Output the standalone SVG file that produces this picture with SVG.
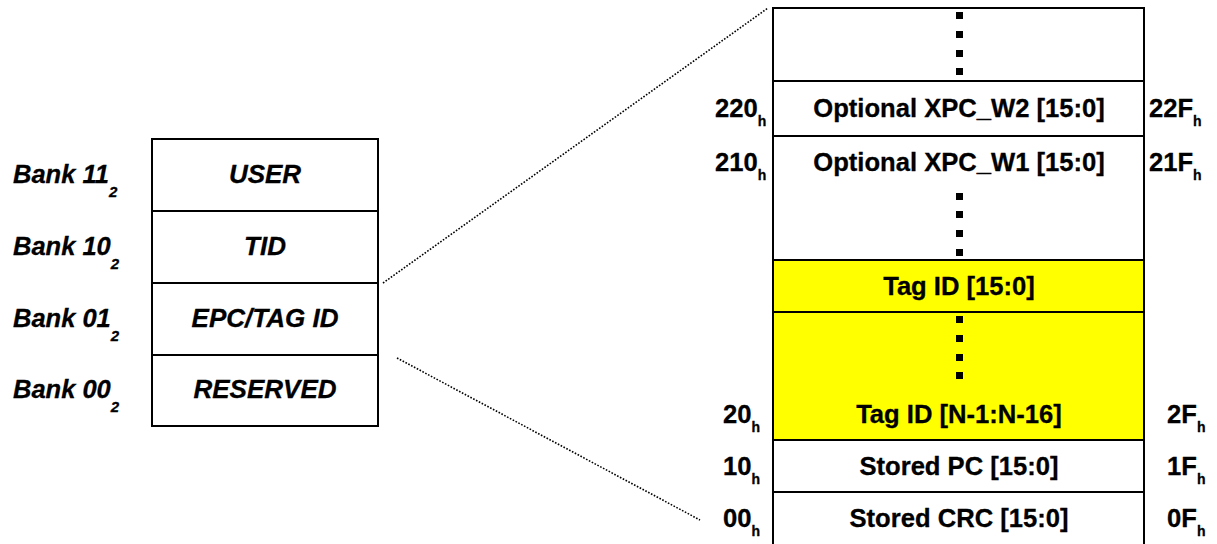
<svg xmlns="http://www.w3.org/2000/svg" width="1217" height="544" viewBox="0 0 1217 544">
<style>
.t{font-family:"Liberation Sans",Arial,sans-serif;font-weight:bold;fill:#000;stroke:#000;stroke-width:0.3}
.i{font-style:italic}
.c{text-anchor:middle}
.box{fill:#fff;stroke:#000;stroke-width:2}
.y{fill:#ffff00;stroke:#000;stroke-width:2}
.ln{stroke:#000;stroke-width:2;fill:none}
.dot{fill:#000}
.conn{stroke:#000;stroke-width:1.6;stroke-dasharray:1.6 1.6;fill:none}
</style>
<rect width="1217" height="544" fill="#fff"/>
<g id="connectors">
<line class="conn" x1="383" y1="283" x2="768" y2="8"/>
<line class="conn" x1="397" y1="358" x2="700" y2="520"/>
</g>
<g id="bank-user">
<rect class="box" x="152" y="139" width="226" height="72"/>
<text class="t i c" x="265" y="183" font-size="26">USER</text>
<text class="t i" x="13" y="183" font-size="25.5">Bank 11<tspan font-size="15" dy="14">2</tspan></text>
</g>
<g id="bank-tid">
<rect class="box" x="152" y="211" width="226" height="72"/>
<text class="t i c" x="265" y="255" font-size="26">TID</text>
<text class="t i" x="13" y="255" font-size="25.5">Bank 10<tspan font-size="15" dy="14">2</tspan></text>
</g>
<g id="bank-epc">
<rect class="box" x="152" y="283" width="226" height="72"/>
<text class="t i c" x="265" y="327" font-size="26">EPC/TAG ID</text>
<text class="t i" x="13" y="327" font-size="25.5">Bank 01<tspan font-size="15" dy="14">2</tspan></text>
</g>
<g id="bank-reserved">
<rect class="box" x="152" y="355" width="226" height="71"/>
<text class="t i c" x="265" y="398" font-size="26">RESERVED</text>
<text class="t i" x="13" y="398" font-size="25.5">Bank 00<tspan font-size="15" dy="14">2</tspan></text>
</g>
<g id="epc-memory">
<rect class="box" x="773" y="8" width="371" height="540"/>
<rect class="y" x="773" y="260" width="371" height="180"/>
<line class="ln" x1="773" y1="81" x2="1144" y2="81"/>
<line class="ln" x1="773" y1="136" x2="1144" y2="136"/>
<line class="ln" x1="773" y1="312" x2="1144" y2="312"/>
<line class="ln" x1="773" y1="492" x2="1144" y2="492"/>
<g class="dot">
<rect x="956" y="12" width="7" height="7"/><rect x="956" y="31" width="7" height="7"/><rect x="956" y="50" width="7" height="7"/><rect x="956" y="68" width="7" height="7"/>
<rect x="956" y="193" width="7" height="7"/><rect x="956" y="211" width="7" height="7"/><rect x="956" y="230" width="7" height="7"/><rect x="956" y="249" width="7" height="7"/>
<rect x="956" y="316" width="7" height="7"/><rect x="956" y="335" width="7" height="7"/><rect x="956" y="354" width="7" height="7"/><rect x="956" y="372" width="7" height="7"/>
</g>
</g>
<g id="row-xpc-w2">
<text class="t c" x="959" y="117" font-size="25.6">Optional XPC_W2 [15:0]</text>
<text class="t" x="715" y="117" font-size="25.6">220<tspan font-size="14" dy="9">h</tspan></text>
<text class="t" x="1149" y="117" font-size="25.6">22F<tspan font-size="14" dy="9">h</tspan></text>
</g>
<g id="row-xpc-w1">
<text class="t c" x="959" y="171" font-size="25.6">Optional XPC_W1 [15:0]</text>
<text class="t" x="715" y="171" font-size="25.6">210<tspan font-size="14" dy="9">h</tspan></text>
<text class="t" x="1149" y="171" font-size="25.6">21F<tspan font-size="14" dy="9">h</tspan></text>
</g>
<g id="row-tagid-15">
<text class="t c" x="959" y="295" font-size="25.6">Tag ID [15:0]</text>
</g>
<g id="row-tagid-n">
<text class="t c" x="959" y="423" font-size="25.6">Tag ID [N-1:N-16]</text>
<text class="t" x="723" y="423" font-size="25.6">20<tspan font-size="14" dy="9">h</tspan></text>
<text class="t" x="1167" y="423" font-size="25.6">2F<tspan font-size="14" dy="9">h</tspan></text>
</g>
<g id="row-pc">
<text class="t c" x="959" y="475" font-size="25.6">Stored PC [15:0]</text>
<text class="t" x="723" y="475" font-size="25.6">10<tspan font-size="14" dy="9">h</tspan></text>
<text class="t" x="1167" y="475" font-size="25.6">1F<tspan font-size="14" dy="9">h</tspan></text>
</g>
<g id="row-crc">
<text class="t c" x="959" y="527" font-size="25.6">Stored CRC [15:0]</text>
<text class="t" x="723" y="527" font-size="25.6">00<tspan font-size="14" dy="9">h</tspan></text>
<text class="t" x="1167" y="527" font-size="25.6">0F<tspan font-size="14" dy="9">h</tspan></text>
</g>
</svg>
